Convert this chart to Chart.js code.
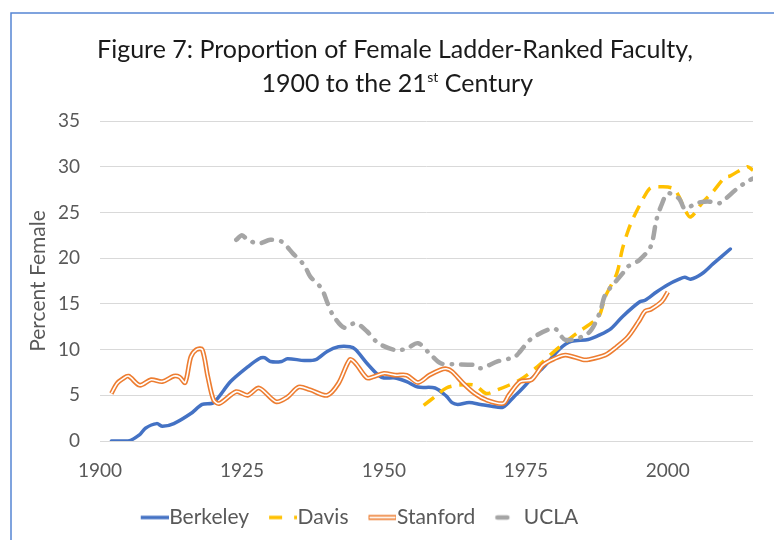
<!DOCTYPE html>
<html><head><meta charset="utf-8">
<script src="https://cdn.jsdelivr.net/npm/chart.js@4.4.0/dist/chart.umd.min.js"></script>
<style>html,body{margin:0;padding:0;background:#fff}canvas{display:block}</style>
</head><body>
<canvas id="c" width="774" height="540"></canvas>
<script>
const titleLine1 = 'Figure 7: Proportion of Female Ladder-Ranked Faculty,';
const titleLine2Parts = ['1900 to the 21', 'st', ' Century'];
const yAxisTitle = 'Percent Female';
const seriesNames = ['Berkeley', 'Davis', 'Stanford', 'UCLA'];
const xTickValues = [1900, 1925, 1950, 1975, 2000];
const yTickValues = [0, 5, 10, 15, 20, 25, 30, 35];

const berkeleyYears = [1902,1905,1907,1908,1910,1911,1913,1916,1918,1920,1923,1926,1928,1929,1930,1932,1933,1936,1938,1940,1942,1944,1945,1947,1949,1950,1952,1954,1956,1959,1961,1962,1963,1965,1967,1969,1971,1973,1974,1976,1978,1981,1983,1986,1988,1990,1992,1995,1996,1998,2000,2002,2003,2004,2006,2008,2011];
const berkeleyValues = [0,0,0.7,1.4,1.9,1.6,1.9,3.0,4.0,4.2,6.5,8.1,9.0,9.1,8.7,8.7,9.0,8.8,8.9,9.8,10.3,10.3,10.0,8.5,7.2,6.9,6.9,6.5,5.9,5.8,4.9,4.2,4.0,4.2,4.0,3.8,3.7,4.9,5.5,6.8,8.0,10.1,10.9,11.1,11.6,12.3,13.6,15.2,15.4,16.3,17.1,17.7,17.9,17.7,18.3,19.4,21.0];

const davisYears = [1957,1959,1961,1963,1966,1968,1970,1972,1974,1977,1980,1984,1987,1988,1989,1991,1992,1993,1994,1996,1997,1999,2001,2002,2003,2004,2006,2008,2010,2011,2014,2015];
const davisValues = [3.9,4.85,5.8,6.1,6.1,5.2,5.6,6.1,6.7,8.1,9.8,11.8,13.1,13.8,15.8,18.3,21.0,23.0,24.5,26.9,27.7,27.8,27.6,26.7,25.3,24.5,26.0,27.3,28.8,29.0,30.0,29.6];

const stanfordYears = [1902,1903,1904,1905,1907,1909,1911,1913,1914,1915,1916,1917,1918,1919,1920,1921,1924,1926,1928,1931,1933,1935,1937,1940,1942,1944,1945,1947,1948,1950,1952,1954,1956,1958,1960,1961,1962,1964,1966,1968,1971,1972,1974,1976,1978,1980,1982,1985,1986,1989,1991,1993,1995,1996,1997,1999,2000];
const stanfordValues = [5.2,6.3,6.8,7.1,6.1,6.7,6.5,7.1,7.0,6.4,9.2,10.0,10.0,7.0,4.5,4.1,5.4,5.0,5.8,4.3,4.8,5.9,5.6,5.0,6.3,8.9,8.5,6.9,7.0,7.4,7.2,7.2,6.4,7.2,7.8,7.9,7.6,6.3,5.2,4.5,4.1,5.0,6.5,6.7,8.3,9.0,9.4,8.9,8.9,9.4,10.3,11.4,13.2,14.2,14.4,15.3,16.3];

const uclaYears = [1924,1925,1926,1928,1930,1932,1934,1936,1937,1939,1940,1941,1943,1945,1947,1949,1952,1954,1956,1958,1960,1962,1966,1967,1970,1973,1974,1976,1980,1982,1986,1988,1989,1992,1993,1995,1997,1998,1999,2000,2002,2003,2005,2007,2009,2010,2012,2014,2015];
const uclaValues = [22.0,22.5,22.0,21.6,22.0,21.8,20.5,19.2,18.0,16.7,15.2,13.8,12.4,12.9,12.0,10.7,9.95,10.1,10.7,9.6,8.5,8.4,8.3,7.95,8.7,9.2,9.8,11.2,12.3,11.05,11.8,14.0,16.0,18.3,19.1,19.8,21.3,24.2,26.0,27.1,26.5,25.4,26.0,26.2,26.0,26.4,27.5,28.4,28.7];

const pts = (xs, ys) => xs.map((x, i) => ({x: x, y: ys[i]}));

const BLUE = '#4472C4', GOLD = '#FFC000', ORANGE = '#ED7D31', GRAY = '#A5A5A5';
const TEXT = '#595959';

function swatch(draw) {
  const c = document.createElement('canvas');
  c.width = 38; c.height = 10;
  const g = c.getContext('2d');
  g.translate(10, 5);
  draw(g);
  return c;
}
const swBerkeley = swatch(g => { g.strokeStyle = BLUE; g.lineWidth = 3.5; g.beginPath(); g.moveTo(0,0); g.lineTo(28,0); g.stroke(); });
const swDavis = swatch(g => { g.strokeStyle = GOLD; g.fillStyle = GOLD; g.lineWidth = 3.5; g.beginPath(); g.moveTo(0,0); g.lineTo(13,0); g.stroke(); g.fillRect(25,-1.75,3,3.5); });
const swStanford = swatch(g => { g.strokeStyle = ORANGE; g.lineWidth = 5; g.beginPath(); g.moveTo(0,0); g.lineTo(28,0); g.stroke(); g.strokeStyle = '#fff'; g.lineWidth = 1.8; g.beginPath(); g.moveTo(1,0); g.lineTo(27,0); g.stroke(); });
const swUcla = swatch(g => { g.strokeStyle = GRAY; g.lineWidth = 4.5; g.lineCap = 'round'; g.beginPath(); g.moveTo(2,0); g.lineTo(12,0); g.stroke(); });

const framePlugin = {
  id: 'frame',
  beforeDraw(chart) {
    const ctx = chart.ctx;
    ctx.save();
    ctx.fillStyle = '#fff';
    ctx.fillRect(0, 0, chart.width, chart.height);
    ctx.strokeStyle = '#5585d4';
    ctx.lineWidth = 1.5;
    ctx.beginPath();
    ctx.moveTo(11, chart.height);
    ctx.lineTo(11, 13);
    ctx.lineTo(chart.width, 13);
    ctx.stroke();
    ctx.restore();
  },
  afterDraw(chart) {
    const ctx = chart.ctx;
    ctx.save();
    ctx.fillStyle = '#1a1a1a';
    ctx.textBaseline = 'alphabetic';
    ctx.textAlign = 'left';
    const big = '25px Lato', small = '14px Lato';
    ctx.font = big;
    const w1 = ctx.measureText(titleLine1).width;
    ctx.fillText(titleLine1, 395 - w1 / 2, 58);
    const wa = ctx.measureText(titleLine2Parts[0]).width;
    const wc = ctx.measureText(titleLine2Parts[2]).width;
    ctx.font = small;
    const wb = ctx.measureText(titleLine2Parts[1]).width;
    let x = 397 - (wa + wb + wc) / 2;
    ctx.font = big;
    ctx.fillText(titleLine2Parts[0], x, 92);
    x += wa;
    ctx.font = small;
    ctx.fillText(titleLine2Parts[1], x + 0.5, 82);
    x += wb + 0.5;
    ctx.font = big;
    ctx.fillText(titleLine2Parts[2], x, 92);
    ctx.restore();
  },
  afterLayout(chart) {
    if (chart.legend) {
      chart.legend.left -= 27; chart.legend.right -= 27;
      chart.legend.top -= 2; chart.legend.bottom -= 2;
    }
  }
};

const common = { fill: false, pointRadius: 0, pointHoverRadius: 0, tension: 0.3, borderJoinStyle: 'round' };

new Chart(document.getElementById('c'), {
  type: 'line',
  data: {
    datasets: [
      Object.assign({}, common, { label: seriesNames[0], data: pts(berkeleyYears, berkeleyValues), borderColor: BLUE, borderWidth: 3.5, order: 5, pointStyle: swBerkeley, borderCapStyle: 'round' }),
      Object.assign({}, common, { label: seriesNames[1], data: pts(davisYears, davisValues), borderColor: GOLD, borderWidth: 3.5, borderDash: [13, 8], order: 4, pointStyle: swDavis }),
      Object.assign({}, common, { label: seriesNames[2], data: pts(stanfordYears, stanfordValues), borderColor: ORANGE, borderWidth: 4.8, order: 3, pointStyle: swStanford }),
      Object.assign({}, common, { label: '', data: pts(stanfordYears, stanfordValues), borderColor: '#ffffff', borderWidth: 1.6, order: 2, pointStyle: swStanford }),
      Object.assign({}, common, { label: seriesNames[3], data: pts(uclaYears, uclaValues), borderColor: GRAY, borderWidth: 4.5, borderDash: [11, 9, 0.5, 9], borderCapStyle: 'round', order: 1, pointStyle: swUcla })
    ]
  },
  options: {
    responsive: false,
    animation: false,
    events: [],
    layout: { padding: { top: 121, left: 20, right: 21, bottom: 0 } },
    plugins: {
      title: { display: false },
      tooltip: { enabled: false },
      legend: {
        position: 'bottom',
        labels: {
          filter: item => item.text !== '',
          sort: (a, b) => a.datasetIndex - b.datasetIndex,
          usePointStyle: true,
          pointStyleWidth: 18,
          padding: 20,
          color: TEXT,
          font: { family: 'Lato', size: 21 }
        }
      }
    },
    scales: {
      x: {
        type: 'linear',
        min: 1900, max: 2015,
        afterBuildTicks: s => { s.ticks = xTickValues.map(v => ({ value: v })); },
        afterFit: s => { s.height = 48; },
        grid: { display: false, drawTicks: false },
        border: { display: false },
        ticks: { padding: 18, color: TEXT, font: { family: 'Lato', size: 19 }, callback: v => String(v), maxRotation: 0 }
      },
      y: {
        min: 0, max: 35,
        afterBuildTicks: s => { s.ticks = yTickValues.map(v => ({ value: v })); },
        afterFit: s => { s.width = 80; },
        grid: { color: '#d9d9d9', lineWidth: 1, drawTicks: false },
        border: { display: false },
        ticks: { padding: 20, color: TEXT, font: { family: 'Lato', size: 19 } },
        title: { display: true, text: yAxisTitle, color: TEXT, font: { family: 'Lato', size: 21 }, padding: { top: 6, bottom: 0 } }
      }
    }
  },
  plugins: [framePlugin]
});
</script>
</body></html>
